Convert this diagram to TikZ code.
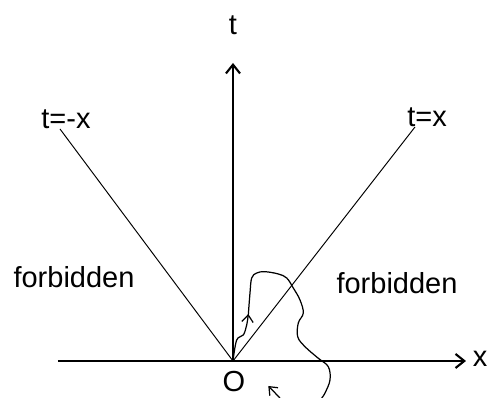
\documentclass[tikz,border=0pt]{standalone}
\usepackage{fontspec}
\setmainfont{Liberation Sans}
\usetikzlibrary{arrows.meta}

\tikzset{
  axis/.style={line width=1.2pt, -{Straight Barb[length=5pt,width=8pt]}},
  cone/.style={line width=0.55pt},
  path/.style={line width=0.7pt},
  pathtip/.style={-{Straight Barb[length=4pt,width=6.5pt]}},
  lbl/.style={font=\fontsize{16.5}{19}\selectfont, inner sep=0pt}
}

\begin{document}
\begin{tikzpicture}[x=0.2cm,y=0.2cm]
  \useasboundingbox (-23.3,-3.7) rectangle (26.1,36.1);

  % axes
  \coordinate (O) at (0,0);
  \coordinate (xl) at (-17.5,0);
  \coordinate (xr) at (23.3,0);
  \coordinate (tt) at (0,29.8);
  \draw[axis] (xl) -- (xr);
  \draw[axis] (O) -- (tt);
  \node[lbl] (xlab) at (24.7,0.2) {x};
  \node[lbl] (tlab) at (0,33.6) {t};
  \node[lbl] (olab) at (0.1,-2.1) {O};

  % light cone
  \coordinate (cl) at (-17.3,23.2);
  \coordinate (cr) at (18.2,23.4);
  \draw[cone] (O) -- (cl);
  \draw[cone] (O) -- (cr);
  \node[lbl] (leftcone) at (-16.7,24.2) {t=-x};
  \node[lbl] (rightcone) at (19.4,24.4) {t=x};

  \node[lbl] (forbl) at (-15.9,8.4) {forbidden};
  \node[lbl] (forbr) at (16.4,7.8) {forbidden};

  % world line
  \coordinate (mid) at (1.53,4.7);
  \draw[path, pathtip] plot[smooth, tension=0.6] coordinates
    {(0,0) (0.37,2.1) (1.03,2.6) (1.37,3.6) (1.53,4.7)};
  \draw[path] plot[smooth, tension=0.6] coordinates
    {(1.53,4.6) (1.7,6.8) (1.87,8.3) (2.37,8.8) (3.2,8.93) (4.53,8.7) (5.37,8.3)
     (6.03,7.3) (6.7,6.1) (7.03,4.8) (6.53,3.8) (6.47,2.43) (7.2,1.43)
     (8.53,0.27) (9.53,-0.57) (9.7,-1.9) (9.2,-3.2) (8.87,-3.7)};
  \coordinate (back) at (4.7,-3.7);
  \coordinate (backtip) at (3.53,-2.5);
  \draw[path, pathtip] (back) -- (backtip);
\end{tikzpicture}
\end{document}
